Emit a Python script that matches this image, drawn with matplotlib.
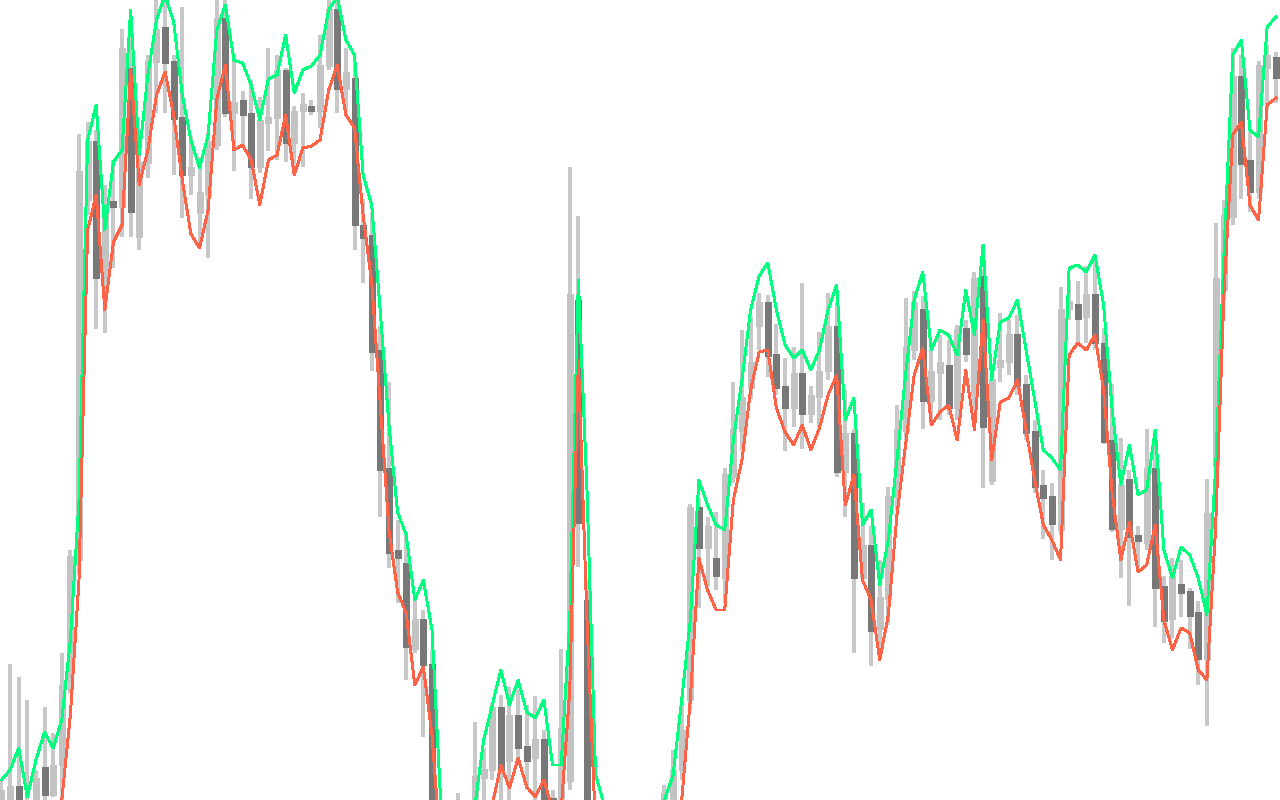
import numpy as np
import matplotlib
matplotlib.use("Agg")
import matplotlib.pyplot as plt

# OHLC per bar (price units, 0..800 is the visible window)
opens = [-10, -5, 14, 0, -5, 33, 5, 35, 123, 240,
         600, 659, 520, 599, 593, 732, 563, 637, 738, 773,
         739, 683, 625, 587, 605, 655, 782, 687, 700, 687,
         633, 677, 682, 730, 657, 689, 694, 689, 734, 791,
         711, 722, 575, 565, 450, 332, 250, 237, 151, 181,
         136, -30, -60, -40, -15, -15, 22, 30, 93, 39,
         85, 54, 42, 61, 2, -10, 19, 500, 200, -40,
         -70, -85, -60, -80, -60, -50, -30, -15, 0, 30,
         100, 293, 252, 242, 222, 323, 369, 412, 474, 498,
         446, 414, 392, 427, 386, 403, 429, 474, 328, 367,
         222, 255, 171, 201, 303, 369, 450, 491, 399, 427,
         435, 392, 472, 405, 524, 319, 433, 438, 466, 416,
         369, 315, 304, 270, 491, 496, 483, 506, 457, 360,
         271, 321, 265, 257, 332, 214, 181, 216, 209, 188,
         141, 334, 510, 583, 724, 640, 608, 732, 743]
highs = [20, 136, 123, 100, 30, 93, 67, 147, 250, 666,
         678, 670, 615, 640, 771, 763, 660, 745, 800, 805,
         745, 793, 664, 643, 668, 805, 805, 745, 709, 720,
         703, 752, 745, 732, 694, 707, 700, 765, 800, 805,
         752, 737, 601, 588, 474, 418, 280, 268, 200, 190,
         150, -15, -20, 7, -5, 78, 52, 97, 105, 113,
         110, 95, 104, 70, 10, 151, 633, 584, 220, -30,
         -60, -60, -50, -50, -30, -15, -15, 15, 50, 104,
         296, 302, 283, 288, 332, 418, 470, 483, 507, 505,
         476, 442, 453, 517, 414, 468, 507, 497, 410, 371,
         297, 274, 240, 313, 395, 502, 509, 504, 457, 465,
         460, 475, 480, 528, 530, 430, 487, 480, 485, 425,
         380, 330, 317, 513, 520, 519, 534, 546, 472, 416,
         362, 330, 274, 371, 357, 224, 242, 240, 212, 199,
         321, 577, 600, 752, 745, 668, 739, 755, 748]
lows = [-15, -10, -10, -30, -10, 0, 3, 0, 107, 225,
        585, 471, 467, 532, 563, 563, 550, 622, 687, 687,
        625, 582, 605, 553, 542, 650, 683, 629, 652, 601,
        627, 649, 640, 638, 627, 633, 685, 672, 730, 687,
        689, 550, 517, 429, 283, 232, 197, 120, 147, 63,
        -40, -70, -75, -50, -45, -20, 0, 20, 0, 0,
        40, 10, 0, -15, -20, -15, 10, 233, -50, -80,
        -100, -95, -100, -90, -70, -60, -55, -20, -10, 20,
        90, 192, 213, 210, 197, 317, 350, 401, 450, 423,
        405, 349, 373, 351, 377, 373, 420, 323, 283, 147,
        220, 134, 141, 175, 290, 360, 440, 371, 375, 380,
        385, 380, 438, 390, 312, 315, 418, 425, 405, 360,
        307, 261, 240, 265, 480, 457, 457, 450, 356, 268,
        222, 194, 233, 250, 173, 157, 162, 183, 151, 115,
        74, 325, 500, 575, 601, 588, 601, 690, 697]
closes = [10, 14, -5, -20, 22, 5, 35, 115, 244, 629,
          659, 522, 600, 593, 752, 588, 638, 739, 771, 737,
          681, 625, 633, 608, 659, 782, 687, 698, 685, 633,
          680, 683, 730, 657, 689, 696, 689, 735, 791, 711,
          728, 575, 562, 448, 330, 247, 242, 153, 181, 135,
          -30, -60, -40, -15, -30, 24, 31, 93, 30, 85,
          52, 39, 61, -5, -10, 72, 506, 277, -40, -70,
          -90, -70, -90, -60, -40, -30, -45, 7, 30, 70,
          293, 252, 274, 224, 326, 371, 403, 438, 498, 444,
          412, 392, 427, 386, 405, 429, 474, 328, 367, 222,
          255, 169, 203, 304, 371, 453, 498, 399, 429, 438,
          392, 471, 446, 522, 373, 421, 440, 466, 414, 367,
          313, 302, 276, 491, 499, 481, 506, 457, 358, 271,
          315, 263, 259, 332, 212, 179, 224, 207, 184, 141,
          287, 522, 585, 724, 636, 608, 735, 745, 722]

# upper (green) and lower (red) bands
upper = [20, 30, 52, 3, 40, 68, 52, 80, 160, 300,
         660, 695, 570, 638, 650, 790, 645, 725, 780, 805,
         778, 705, 660, 632, 665, 770, 795, 740, 737, 715,
         680, 721, 725, 765, 707, 730, 734, 745, 790, 803,
         760, 745, 625, 595, 488, 375, 288, 265, 200, 220,
         170, 0, -20, -15, -10, -5, 60, 95, 130, 95,
         120, 88, 82, 100, 35, 35, 180, 520, 310, 25,
         -5, -20, -25, -20, -15, -10, -10, 0, 25, 100,
         180, 320, 295, 275, 270, 360, 420, 490, 524, 537,
         490, 455, 442, 450, 430, 450, 490, 515, 380, 402,
         275, 290, 215, 260, 340, 425, 500, 528, 450, 470,
         465, 445, 510, 465, 555, 420, 478, 482, 500, 450,
         400, 350, 342, 330, 532, 535, 528, 545, 495, 390,
         315, 355, 305, 310, 370, 250, 222, 253, 245, 222,
         185, 330, 550, 745, 760, 670, 663, 773, 783]
lower = [-30, -20, -10, -40, -20, -10, -15, 0, 85, 220,
         570, 605, 490, 558, 575, 730, 615, 650, 705, 728,
         685, 620, 566, 552, 590, 700, 735, 650, 655, 640,
         595, 640, 645, 685, 625, 652, 654, 660, 710, 735,
         685, 672, 585, 517, 395, 270, 208, 187, 115, 133,
         65, -50, -60, -60, -60, -50, -30, -5, 35, 12,
         42, 13, 3, 20, -10, -10, 110, 440, 180, -30,
         -50, -60, -65, -60, -55, -50, -50, -30, -15, 0,
         100, 242, 210, 190, 190, 300, 340, 410, 448, 450,
         392, 368, 355, 375, 350, 372, 405, 425, 295, 325,
         220, 200, 140, 185, 285, 355, 425, 452, 375, 388,
         395, 360, 430, 370, 480, 340, 398, 402, 420, 370,
         320, 275, 260, 240, 445, 457, 450, 465, 410, 307,
         240, 278, 228, 235, 275, 180, 150, 172, 167, 130,
         120, 270, 510, 665, 678, 595, 580, 695, 702]

o = np.array(opens, float)
h = np.array(highs, float)
l = np.array(lows, float)
c = np.array(closes, float)
x = np.arange(len(o))

up_col = '#c3c3c3'
down_col = '#787878'
wick_col = '#c8c8c8'

fig = plt.figure(figsize=(12.8, 8), dpi=100)
ax = fig.add_axes([0, 0, 1, 1])
ax.set_axis_off()

# wicks
ax.vlines(x, l, h, color=wick_col, linewidth=1.45, antialiased=False, zorder=1)

# bodies (thick vertical segments, ~6.5 px wide)
rising = c >= o
top = np.maximum(o, c)
bot = np.minimum(o, c)
flat = (top - bot) < 2
top[flat] = bot[flat] + 2
body_lw = 6.5 * 72 / 100
ax.vlines(x[rising], bot[rising], top[rising], color=up_col, linewidth=body_lw,
          antialiased=False, zorder=2).set_capstyle('butt')
ax.vlines(x[~rising], bot[~rising], top[~rising], color=down_col, linewidth=body_lw,
          antialiased=False, zorder=2).set_capstyle('butt')

# bands
ax.plot(x, upper, color='#00ff7f', linewidth=1.4, antialiased=False, zorder=3)
ax.plot(x, lower, color='#ff6347', linewidth=1.4, antialiased=False, zorder=3)

ax.set_xlim(-0.174, 148.49)
ax.set_ylim(0, 800)

fig.savefig('out.png', dpi=100, facecolor='white')
